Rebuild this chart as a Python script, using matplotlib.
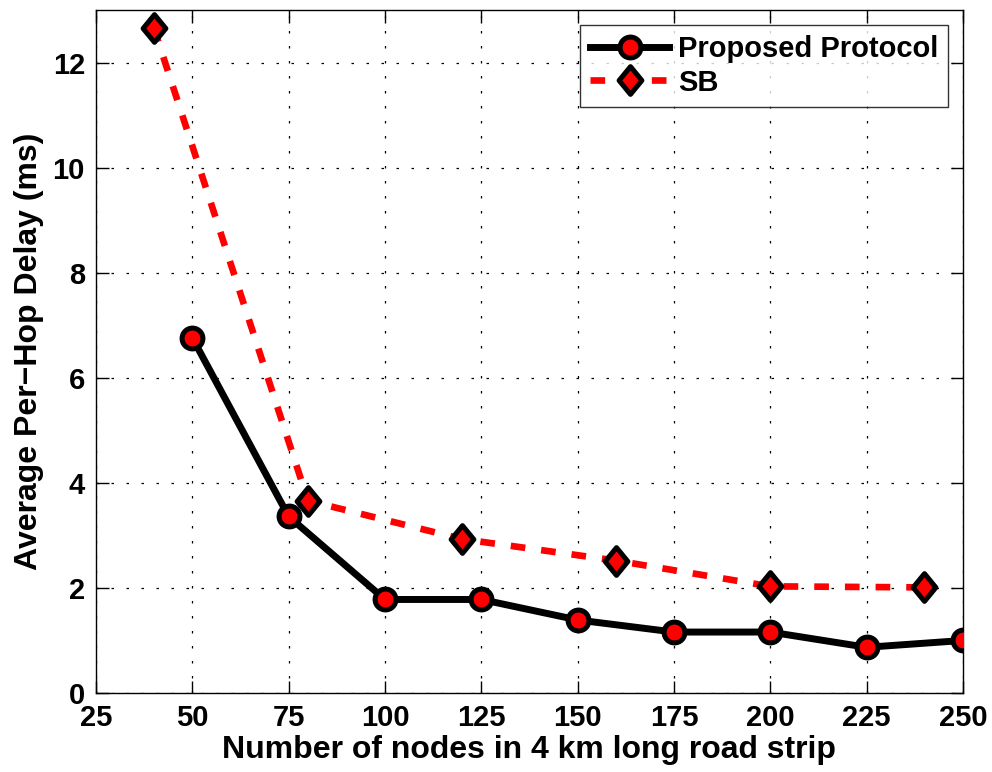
import matplotlib
matplotlib.use("Agg")
import matplotlib.pyplot as plt
from matplotlib.path import Path

# Data
prop_x = [50, 75, 100, 125, 150, 175, 200, 225, 250]
prop_y = [6.76, 3.36, 1.78, 1.78, 1.39, 1.16, 1.16, 0.87, 1.00]
sb_x = [40, 80, 120, 160, 200, 240]
sb_y = [12.66, 3.66, 2.93, 2.52, 2.03, 2.01]
xticks = [25, 50, 75, 100, 125, 150, 175, 200, 225, 250]
yticks = [0, 2, 4, 6, 8, 10, 12]

plt.rcParams['font.family'] = ['Liberation Sans', 'DejaVu Sans']
plt.rcParams['font.weight'] = 'bold'

diamond = Path([(0, 1), (0.82, 0), (0, -1), (-0.82, 0), (0, 1)],
               [Path.MOVETO, Path.LINETO, Path.LINETO, Path.LINETO, Path.CLOSEPOLY])

fig = plt.figure(figsize=(9.92, 7.72), dpi=100)
ax = fig.add_axes([96/992, 79/772, (963-96)/992, (693-10)/772])

ax.plot(prop_x, prop_y, color='black', lw=5, marker='o', markersize=15,
        markerfacecolor='red', markeredgecolor='black', markeredgewidth=3.6,
        label='Proposed Protocol', zorder=3)
ax.plot(sb_x, sb_y, color='red', lw=4.8, dashes=(2.2, 2.4), marker=diamond, markersize=20,
        markerfacecolor='red', markeredgecolor='black', markeredgewidth=3.6,
        label='SB', zorder=3)

ax.set_xlim(25, 250)
ax.set_ylim(0, 13)
ax.set_xticks(xticks)
ax.set_yticks(yticks)
ax.grid(True, color='black', linestyle=(0, (2, 10)), linewidth=0.9)
ax.tick_params(direction='in', length=9, width=1, top=True, right=True, labelsize=21, pad=8)
for lab in ax.get_xticklabels() + ax.get_yticklabels():
    lab.set_fontweight('bold')
for s in ax.spines.values():
    s.set_linewidth(1)

ax.set_xlabel('Number of nodes in 4 km long road strip', fontsize=23, fontweight='bold', labelpad=2)
ax.set_ylabel('Average Per\u2212Hop Delay (ms)', fontsize=23, fontweight='bold', labelpad=6)

leg = ax.legend(loc='upper right', handlelength=2.7, handletextpad=0.3, frameon=True, fancybox=False,
                edgecolor='black', borderaxespad=0.5, labelspacing=0.2, borderpad=0.35,
                prop={'weight': 'bold', 'size': 21})
leg.get_frame().set_linewidth(1)

fig.savefig('out.png', dpi=100)
